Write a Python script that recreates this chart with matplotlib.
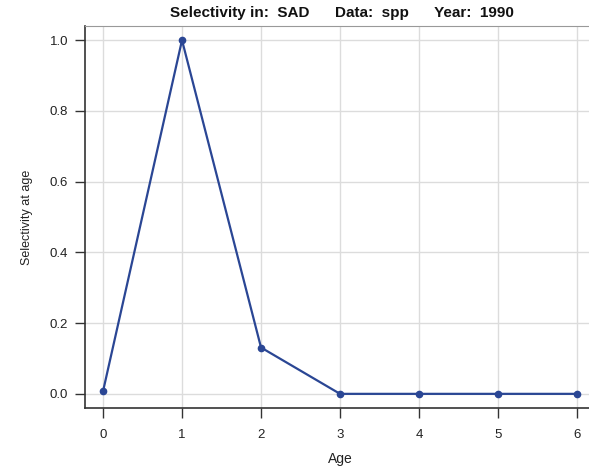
import matplotlib
matplotlib.use("Agg")
import matplotlib.pyplot as plt

plt.rcParams['font.family'] = ['Liberation Sans', 'DejaVu Sans']

# values
ages = [0, 1, 2, 3, 4, 5, 6]
selectivity = [0.007, 1.0, 0.131, 0.0, 0.0, 0.0, 0.0]
yticks = [0.0, 0.2, 0.4, 0.6, 0.8, 1.0]

fig = plt.figure(figsize=(5.89, 4.68), dpi=100)
ax = fig.add_axes([0.1443, 0.1282, 0.866, 0.8162])

ax.plot(ages, selectivity, color='#2a4694', lw=1.6, marker='o', ms=4.5, zorder=3)

ax.set_xlim(-0.228, 6.228)
ax.set_ylim(-0.04, 1.04)
ax.set_xticks(ages)
ax.set_yticks(yticks)
ax.set_yticklabels([f'{v:.1f}' for v in yticks])
ax.grid(True, color='#dcdcdc', lw=1)
ax.set_axisbelow(True)

for side in ['left', 'bottom']:
    ax.spines[side].set_color('#333333')
    ax.spines[side].set_linewidth(1.2)
ax.spines['top'].set_color('#999999')
ax.spines['right'].set_visible(False)
ax.tick_params(direction='out', length=7, width=1, color='#333333',
               labelsize=9.5, labelcolor='#222222')
ax.tick_params(axis='x', pad=8)
ax.tick_params(axis='y', pad=5)

ax.set_xlabel('Age', fontsize=10, color='#222222', labelpad=8)
ax.set_ylabel('Selectivity at age', fontsize=9, color='#222222', labelpad=12)

fig.text(0.58, 0.972, 'Selectivity in:  SAD      Data:  spp      Year:  1990',
         ha='center', va='center', fontsize=11, fontweight='bold', color='#111111')

fig.savefig('out.png', dpi=100)
